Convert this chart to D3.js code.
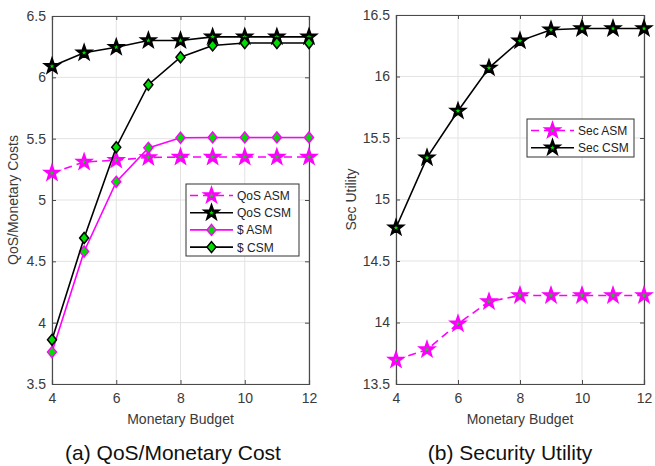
<!DOCTYPE html>
<html><head><meta charset="utf-8">
<script src="https://cdn.jsdelivr.net/npm/d3@7"></script>
<style>
body{margin:0;background:#fff;}
text{font-family:"Liberation Sans",Arial,sans-serif;}
</style></head>
<body><svg id="c" width="655" height="466"></svg>
<script>
const budget = [4,5,6,7,8,9,10,11,12];
const qosASM = [5.22,5.31,5.325,5.347,5.35,5.35,5.35,5.35,5.35];
const qosCSM = [6.09,6.20,6.245,6.30,6.30,6.33,6.33,6.33,6.33];
const costASM = [3.76,4.58,5.148,5.425,5.507,5.51,5.51,5.51,5.51];
const costCSM = [3.86,4.69,5.43,5.94,6.164,6.26,6.28,6.28,6.28];
const secASM = [13.695,13.78,13.99,14.17,14.22,14.22,14.22,14.22,14.22];
const secCSM = [14.77,15.34,15.72,16.07,16.29,16.38,16.39,16.39,16.39];
const xTicks = [4,6,8,10,12];
const yTicksA = [3.5,4,4.5,5,5.5,6,6.5];
const yTicksB = [13.5,14,14.5,15,15.5,16,16.5];

const svg = d3.select("#c");
const MAG = "#ff00ff", GRN = "#00dd00";

function starPath(r){
  const pts=[];
  for(let i=0;i<10;i++){
    const a=-Math.PI/2+i*Math.PI/5, rr=i%2?r*0.4:r;
    pts.push([rr*Math.cos(a), rr*Math.sin(a)]);
  }
  return "M"+pts.map(p=>p.join(",")).join("L")+"Z";
}
const diamond = "M0,-5.5L4.5,0L0,5.5L-4.5,0Z";

function panel(o){
  const g = svg.append("g");
  const x = d3.scaleLinear().domain([4,12]).range([o.x0,o.x1]);
  const y = d3.scaleLinear().domain(o.ydom).range([o.y1,o.y0]);
  g.selectAll(".gx").data(xTicks).join("line")
    .attr("x1",d=>x(d)).attr("x2",d=>x(d)).attr("y1",o.y0).attr("y2",o.y1)
    .attr("stroke","#e3e3e3").attr("stroke-width",1);
  g.selectAll(".gy").data(o.yticks).join("line")
    .attr("y1",d=>y(d)).attr("y2",d=>y(d)).attr("x1",o.x0).attr("x2",o.x1)
    .attr("stroke","#e3e3e3").attr("stroke-width",1);
  const ax = g.append("g").attr("transform",`translate(0,${o.y1})`)
    .call(d3.axisBottom(x).tickValues(xTicks).tickSize(-4).tickPadding(9).tickFormat(d3.format("d")));
  const ay = g.append("g").attr("transform",`translate(${o.x0},0)`)
    .call(d3.axisLeft(y).tickValues(o.yticks).tickSize(-4).tickPadding(6).tickFormat(d=>String(d)));
  const at = g.append("g").attr("transform",`translate(0,${o.y0})`)
    .call(d3.axisTop(x).tickValues(xTicks).tickSize(-4).tickFormat(""));
  const ar = g.append("g").attr("transform",`translate(${o.x1},0)`)
    .call(d3.axisRight(y).tickValues(o.yticks).tickSize(-4).tickFormat(""));
  [ax,ay,at,ar].forEach(a=>{
    a.selectAll("path").attr("stroke","#4a4a4a").attr("stroke-width",1.2);
    a.selectAll("line").attr("stroke","#4a4a4a");
    a.selectAll("text").attr("fill","#3a3a3a").attr("font-size",14);
  });
  g.append("text").attr("x",(o.x0+o.x1)/2).attr("y",424).attr("text-anchor","middle")
    .attr("font-size",14).attr("fill","#3a3a3a").text("Monetary Budget");
  g.append("text").attr("transform",`translate(${o.ylx},${(o.y0+o.y1)/2}) rotate(-90)`)
    .attr("text-anchor","middle").attr("font-size",14).attr("fill","#3a3a3a").text(o.ylabel);
  g.append("text").attr("x",o.capx).attr("y",460).attr("text-anchor","middle")
    .attr("font-size",21).attr("fill","#111").text(o.caption);
  const line = d3.line().x((d,i)=>x(budget[i])).y(d=>y(d));
  o.series.forEach(s=>{
    g.append("path").datum(s.v).attr("d",line).attr("fill","none")
      .attr("stroke",s.c).attr("stroke-width",1.6).attr("stroke-dasharray",s.dash?"8,5":null);
    g.selectAll(null).data(s.v).join("path")
      .attr("transform",(d,i)=>`translate(${x(budget[i])},${y(d)})`)
      .attr("d",s.m==="star"?starPath(6.5):diamond)
      .attr("fill",GRN).attr("stroke",s.c).attr("stroke-width",s.m==="star"?2.6:1.5)
      .attr("stroke-linejoin","miter");
  });
  const L = o.leg;
  g.append("rect").attr("x",L.x).attr("y",L.y).attr("width",L.w).attr("height",L.h)
    .attr("fill","#fff").attr("stroke","#333").attr("stroke-width",1);
  o.series.forEach((s,i)=>{
    const yy = L.y+11.5+i*17.2;
    g.append("line").attr("x1",L.x+4).attr("x2",L.x+47).attr("y1",yy).attr("y2",yy)
      .attr("stroke",s.c).attr("stroke-width",1.6).attr("stroke-dasharray",s.dash?"8,5":null);
    g.append("path").attr("transform",`translate(${L.x+25.5},${yy})`)
      .attr("d",s.m==="star"?starPath(6.5):diamond)
      .attr("fill",GRN).attr("stroke",s.c).attr("stroke-width",s.m==="star"?2.6:1.5);
    g.append("text").attr("x",L.x+51).attr("y",yy+4.5).attr("font-size",12)
      .attr("fill","#222").text(s.name);
  });
}

panel({x0:52,x1:309,y0:16,y1:384,ydom:[3.5,6.5],yticks:yTicksA,ylx:18,
  ylabel:"QoS/Monetary Costs",caption:"(a) QoS/Monetary Cost",capx:173,
  series:[
    {name:"QoS ASM",v:qosASM,c:MAG,dash:true,m:"star"},
    {name:"QoS CSM",v:qosCSM,c:"#000",dash:false,m:"star"},
    {name:"$ ASM",v:costASM,c:MAG,dash:false,m:"dia"},
    {name:"$ CSM",v:costCSM,c:"#000",dash:false,m:"dia"}],
  leg:{x:186,y:184,w:113,h:72}});

panel({x0:396,x1:644,y0:15,y1:384,ydom:[13.5,16.5],yticks:yTicksB,ylx:356,
  ylabel:"Sec Utility",caption:"(b) Security Utility",capx:510,
  series:[
    {name:"Sec ASM",v:secASM,c:MAG,dash:true,m:"star"},
    {name:"Sec CSM",v:secCSM,c:"#000",dash:false,m:"star"}],
  leg:{x:527,y:119,w:107,h:38}});
</script></body></html>
